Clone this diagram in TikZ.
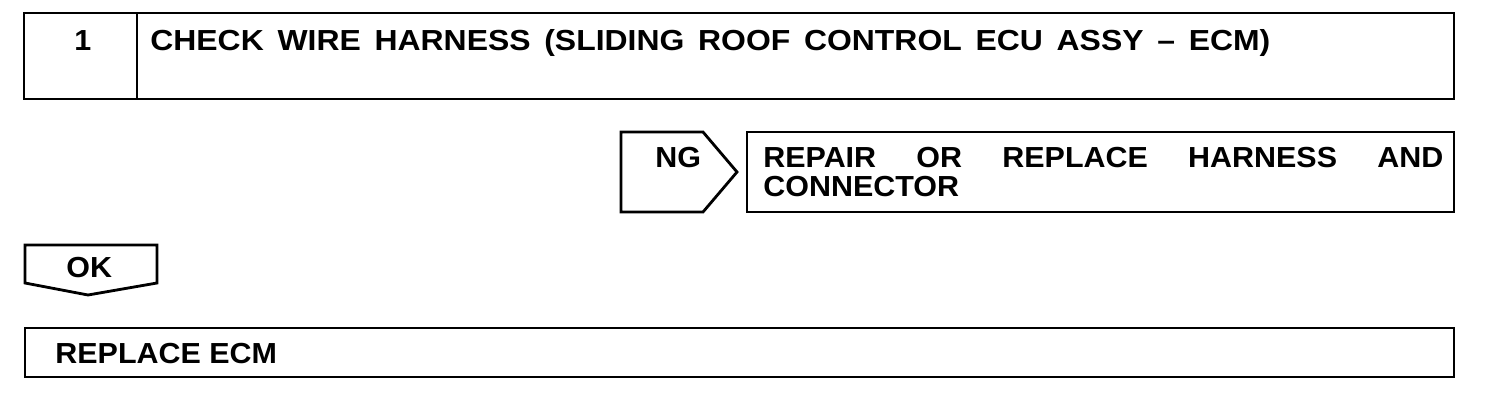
\documentclass[tikz,border=0pt]{standalone}
\usepackage{fontspec}
\setmainfont[FakeStretch=1.05]{Liberation Sans}
\newfontfamily\titlefont[FakeStretch=1.1]{Liberation Sans}
\begin{document}
\begin{tikzpicture}[x=1pt,y=-1pt,line width=2.8pt,
  shp/.style={draw,line join=miter},
  lbl/.style={font=\fontsize{29}{29}\selectfont\bfseries,inner sep=0pt,anchor=base west}]
\useasboundingbox (0,0) rectangle (1504,402);
% step header
\draw[shp] (24,13) rectangle (1454,99);
\draw[shp] (137,13) -- (137,99);
\node[lbl] (num) at (73,50) {1};
\node[lbl,font=\fontsize{29}{29}\titlefont\bfseries] (title) at (149,50) {\hbox to 1120pt{CHECK\hfill WIRE\hfill HARNESS\hfill (SLIDING\hfill ROOF\hfill CONTROL\hfill ECU\hfill ASSY\hfill –\hfill ECM)}};
% NG branch
\draw[shp] (621,132) -- (703,132) -- (737,172) -- (703,212) -- (621,212) -- cycle;
\node[lbl] (ng) at (654,167) {NG};
\draw[shp] (747,132) rectangle (1454,212);
\node[lbl] (rep) at (762,167) {\hbox to 680pt{REPAIR\hfill OR\hfill REPLACE\hfill HARNESS\hfill AND}};
\node[lbl] (con) at (762,196) {CONNECTOR};
% OK branch
\draw[shp] (25,245) -- (157,245) -- (157,283) -- (88,295) -- (25,283) -- cycle;
\node[lbl] (ok) at (65,277) {OK};
\draw[shp] (25,328) rectangle (1454,377);
\node[lbl] (ecm) at (54,363) {REPLACE ECM};
\end{tikzpicture}
\end{document}
